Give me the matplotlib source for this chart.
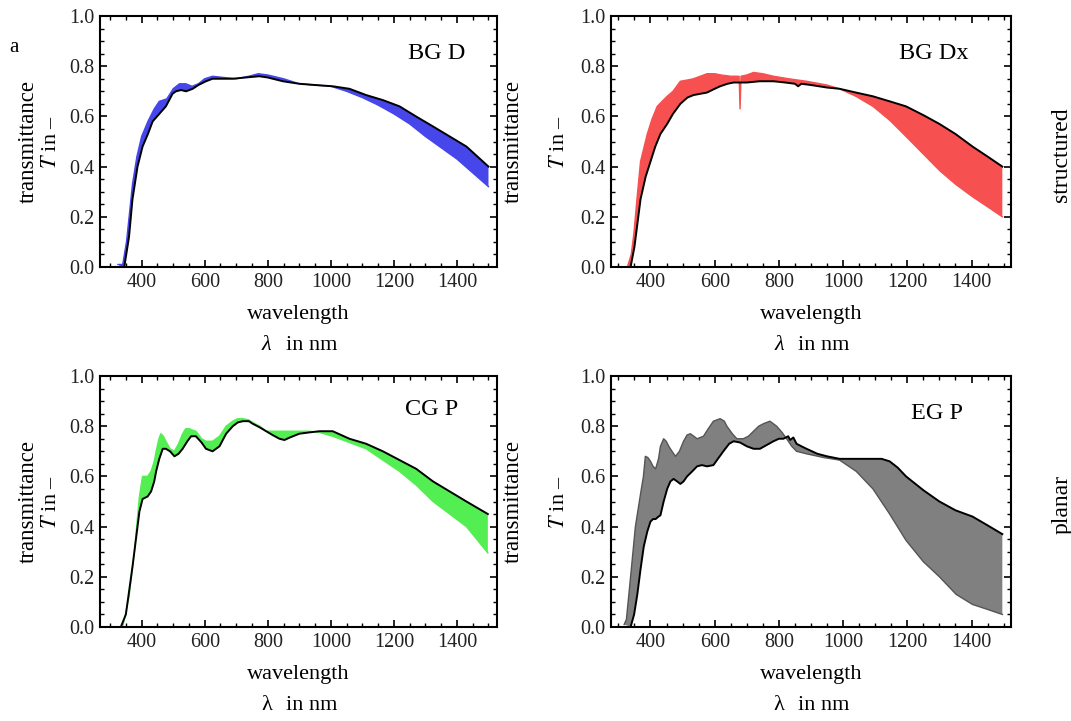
import matplotlib
matplotlib.use("Agg")
import matplotlib.pyplot as plt
from matplotlib.ticker import MultipleLocator

plt.rcParams['font.family'] = ['Liberation Serif', 'DejaVu Serif']
plt.rcParams['mathtext.fontset'] = 'stix'

# ---- data (wavelength in nm, transmittance) ----
# BG D (structured)
bgd_a_x = [335, 345, 360, 371, 387, 403, 420, 435, 456, 477, 498, 509, 525, 541, 562, 580, 604, 625, 650,
           689, 730, 773, 800, 848, 900, 950, 1006, 1059, 1112, 1165, 1218, 1270, 1324, 1377, 1430, 1465, 1500]
bgd_a_y = [0.0, 0.0, 0.12, 0.27, 0.40, 0.48, 0.53, 0.58, 0.61, 0.64, 0.69, 0.70, 0.705, 0.70, 0.71, 0.725,
           0.74, 0.75, 0.75, 0.75, 0.755, 0.76, 0.755, 0.74, 0.73, 0.725, 0.72, 0.71, 0.685, 0.665, 0.64,
           0.60, 0.56, 0.52, 0.48, 0.44, 0.40]
bgd_b_x = [325, 340, 352, 362, 371, 385, 400, 420, 440, 456, 480, 500, 520, 540, 560, 580, 600, 625, 660,
           700, 740, 770, 800, 850, 900, 1000, 1050, 1100, 1150, 1200, 1250, 1300, 1350, 1400, 1450, 1500]
bgd_b_y = [0.01, 0.01, 0.10, 0.22, 0.33, 0.44, 0.52, 0.58, 0.63, 0.66, 0.67, 0.71, 0.73, 0.73, 0.72, 0.73,
           0.75, 0.76, 0.755, 0.75, 0.76, 0.77, 0.765, 0.75, 0.73, 0.72, 0.70, 0.675, 0.645, 0.61, 0.57,
           0.52, 0.475, 0.43, 0.375, 0.32]

# BG Dx (structured)
bgdx_a_x = [338, 350, 369, 385, 400, 415, 431, 452, 470, 493, 515, 534, 555, 576, 600, 617, 640, 659, 700,
            740, 783, 820, 850, 860, 870, 900, 950, 989, 1040, 1093, 1145, 1196, 1250, 1300, 1350, 1403,
            1450, 1496]
bgdx_a_y = [0.0, 0.08, 0.27, 0.36, 0.42, 0.48, 0.53, 0.57, 0.61, 0.65, 0.675, 0.685, 0.69, 0.695, 0.71,
            0.72, 0.73, 0.735, 0.735, 0.74, 0.74, 0.735, 0.73, 0.72, 0.73, 0.725, 0.715, 0.71, 0.695, 0.68,
            0.66, 0.64, 0.605, 0.57, 0.53, 0.48, 0.44, 0.40]
bgdx_b_x = [328, 340, 348, 360, 369, 390, 405, 421, 440, 452, 470, 493, 515, 534, 555, 576, 600, 620, 650,
            676, 679, 682, 700, 721, 750, 783, 830, 886, 950, 989, 1040, 1093, 1145, 1196, 1250, 1300, 1350,
            1403, 1450, 1496]
bgdx_b_y = [0.0, 0.05, 0.13, 0.30, 0.42, 0.53, 0.59, 0.64, 0.665, 0.68, 0.70, 0.74, 0.745, 0.75, 0.76,
            0.77, 0.77, 0.765, 0.76, 0.76, 0.63, 0.76, 0.765, 0.775, 0.77, 0.76, 0.75, 0.74, 0.725, 0.71,
            0.68, 0.64, 0.585, 0.52, 0.45, 0.385, 0.33, 0.28, 0.24, 0.20]

# CG P (planar)
cgp_a_x = [334, 350, 360, 371, 383, 393, 403, 419, 430, 440, 446, 456, 467, 477, 490, 504, 517, 530, 545,
           557, 572, 590, 604, 625, 647, 668, 689, 705, 721, 740, 752, 775, 795, 815, 837, 853, 870, 900,
           930, 964, 1006, 1059, 1112, 1165, 1218, 1271, 1324, 1377, 1430, 1498]
cgp_a_y = [0.0, 0.05, 0.14, 0.24, 0.36, 0.46, 0.51, 0.52, 0.54, 0.58, 0.62, 0.67, 0.71, 0.71, 0.70, 0.68,
           0.69, 0.71, 0.74, 0.76, 0.76, 0.735, 0.71, 0.70, 0.72, 0.77, 0.80, 0.815, 0.82, 0.82, 0.81,
           0.795, 0.78, 0.765, 0.75, 0.745, 0.755, 0.77, 0.775, 0.78, 0.78, 0.75, 0.73, 0.70, 0.665, 0.63,
           0.58, 0.54, 0.50, 0.45]
cgp_b_x = [340, 360, 377, 393, 403, 419, 430, 440, 446, 455, 461, 469, 477, 490, 504, 517, 530, 540, 551,
           560, 572, 590, 604, 625, 647, 668, 689, 705, 721, 740, 752, 775, 795, 837, 870, 900, 930, 964,
           1006, 1059, 1112, 1165, 1218, 1271, 1324, 1377, 1430, 1498]
cgp_b_y = [0.0, 0.12, 0.30, 0.52, 0.60, 0.60, 0.62, 0.66, 0.70, 0.75, 0.77, 0.76, 0.74, 0.71, 0.70, 0.73,
           0.77, 0.79, 0.79, 0.785, 0.78, 0.75, 0.74, 0.74, 0.76, 0.80, 0.82, 0.83, 0.83, 0.825, 0.815,
           0.80, 0.78, 0.78, 0.78, 0.78, 0.78, 0.775, 0.76, 0.735, 0.71, 0.665, 0.62, 0.565, 0.50, 0.45,
           0.40, 0.295]

# EG P (planar)
egp_a_x = [338, 349, 359, 369, 379, 390, 400, 408, 416, 425, 431, 441, 452, 462, 472, 483, 493, 503, 514,
           530, 545, 560, 576, 596, 610, 627, 645, 659, 679, 700, 721, 741, 762, 783, 800, 814, 829, 835,
           845, 855, 870, 886, 920, 950, 989, 1040, 1093, 1120, 1145, 1170, 1196, 1250, 1300, 1350, 1403,
           1450, 1496]
egp_a_y = [0.0, 0.05, 0.13, 0.23, 0.32, 0.38, 0.42, 0.43, 0.43, 0.44, 0.445, 0.50, 0.55, 0.58, 0.59, 0.58,
           0.57, 0.58, 0.60, 0.62, 0.64, 0.645, 0.64, 0.645, 0.67, 0.70, 0.73, 0.74, 0.735, 0.72, 0.71,
           0.71, 0.725, 0.74, 0.75, 0.75, 0.76, 0.745, 0.755, 0.73, 0.72, 0.71, 0.69, 0.68, 0.67, 0.67,
           0.67, 0.67, 0.66, 0.635, 0.60, 0.545, 0.50, 0.465, 0.44, 0.405, 0.37]
egp_b_x = [318, 325, 338, 353, 369, 378, 384, 392, 400, 408, 416, 425, 431, 441, 449, 457, 467, 478, 490,
           503, 514, 524, 535, 545, 555, 565, 580, 596, 617, 630, 638, 655, 669, 689, 705, 721, 737, 752,
           772, 793, 810, 824, 840, 855, 886, 940, 989, 1041, 1093, 1145, 1196, 1250, 1300, 1352, 1403,
           1450, 1496]
egp_b_y = [0.01, 0.03, 0.20, 0.40, 0.53, 0.60, 0.68, 0.675, 0.66, 0.64, 0.63, 0.67, 0.72, 0.75, 0.74,
           0.72, 0.70, 0.68, 0.70, 0.74, 0.765, 0.77, 0.76, 0.75, 0.755, 0.76, 0.79, 0.82, 0.83, 0.82, 0.80,
           0.77, 0.75, 0.75, 0.76, 0.78, 0.80, 0.81, 0.82, 0.80, 0.775, 0.75, 0.72, 0.70, 0.69, 0.675,
           0.665, 0.62, 0.55, 0.45, 0.345, 0.26, 0.20, 0.13, 0.09, 0.07, 0.05]

names = ['BG D', 'BG Dx', 'CG P', 'EG P']
colors = ['#4646ea', '#f65050', '#52ee52', '#808080']
edge_colors = ['#4646ea', '#f65050', '#52ee52', '#555555']
curves = [(bgd_a_x, bgd_a_y, bgd_b_x, bgd_b_y),
          (bgdx_a_x, bgdx_a_y, bgdx_b_x, bgdx_b_y),
          (cgp_a_x, cgp_a_y, cgp_b_x, cgp_b_y),
          (egp_a_x, egp_a_y, egp_b_x, egp_b_y)]

W, H = 1071, 721
fig = plt.figure(figsize=(W / 100, H / 100), dpi=100)

# axes boxes in pixels: left, top, right, bottom
boxes = [(100, 16, 497, 267), (611, 16, 1011, 267),
         (100, 376, 497, 627), (611, 376, 1011, 627)]
xlims = [(268, 1527), (277, 1523), (268, 1527), (277, 1523)]
label_pos = [(0.849, 0.85), (0.808, 0.85), (0.836, 0.865), (0.815, 0.85)]

tick_kw = dict(direction='in', top=True, right=True, labelsize=14.5, labelcolor='#222222')

for i, (l, t, r, b) in enumerate(boxes):
    ax = fig.add_axes([l / W, 1 - b / H, (r - l) / W, (b - t) / H])
    ax_, ay_, bx_, by_ = curves[i]
    ax.fill(list(ax_) + list(bx_)[::-1], list(ay_) + list(by_)[::-1],
            color=colors[i], lw=0)
    ax.plot(bx_, by_, color=edge_colors[i], lw=1.0)
    ax.plot(ax_, ay_, color='black', lw=1.4)

    ax.set_xlim(*xlims[i])
    ax.set_ylim(0, 1)
    ax.set_xticks([400, 600, 800, 1000, 1200, 1400])
    ax.set_yticks([0.0, 0.2, 0.4, 0.6, 0.8, 1.0])
    ax.set_yticklabels(['0.0', '0.2', '0.4', '0.6', '0.8', '1.0'])
    ax.xaxis.set_minor_locator(MultipleLocator(50))
    ax.yaxis.set_minor_locator(MultipleLocator(0.05))
    ax.tick_params(which='major', length=5, width=1.2, pad=4, **tick_kw)
    ax.tick_params(which='minor', length=3, width=1.0, direction='in', top=True, right=True)
    for s in ax.spines.values():
        s.set_linewidth(1.5)

    ax.text(label_pos[i][0], label_pos[i][1], names[i], transform=ax.transAxes,
            ha='center', va='center', fontsize=17.5)

    # axis labels (Mathematica style two-line labels)
    cy = (t + b) / 2
    cx = (l + r) / 2
    xl1 = 28 if l < 300 else 513
    xl2 = 52 if l < 300 else 559
    fig.text(xl1 / W, 1 - cy / H, 'transmittance', rotation=90, ha='center', va='center', fontsize=16.5)
    fig.text(xl2 / W, 1 - cy / H, r'$T$ in –', rotation=90, ha='center', va='center', fontsize=16)
    fig.text(cx / W, 1 - (b + 48) / H, 'wavelength', ha='center', va='center', fontsize=16)
    lam_style = 'italic' if t < 100 else 'normal'
    fig.text(cx / W - 0.03, 1 - (b + 79) / H, 'λ', ha='center', va='center', fontsize=16,
             fontstyle=lam_style)
    fig.text(cx / W + 0.012, 1 - (b + 79) / H, 'in nm', ha='center', va='center', fontsize=16)

fig.text(14 / W, 1 - 47 / H, 'a', ha='center', va='center', fontsize=15)
fig.text(1062 / W, 1 - 155 / H, 'structured', rotation=90, ha='center', va='center', fontsize=17)
fig.text(1062 / W, 1 - 504 / H, 'planar', rotation=90, ha='center', va='center', fontsize=17)

fig.savefig('out.png', dpi=100)
